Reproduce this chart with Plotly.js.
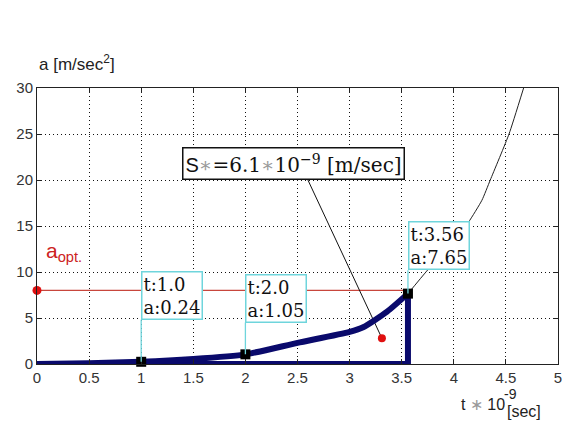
<!DOCTYPE html>
<html>
<head>
<meta charset="utf-8">
<script src="https://cdn.plot.ly/plotly-3.0.1.min.js"></script>
<style>
  html, body { margin: 0; padding: 0; background: #fff; }
  #chart { width: 567px; height: 428px; }
</style>
</head>
<body>
<div id="chart"></div>
<script>
// acceleration profile a(t), t in units of 1e-9 s
const tCurve = [0, 0.5, 1, 1.5, 2, 2.5, 3, 3.13, 3.36, 3.56];
const aCurve = [0, 0.08, 0.24, 0.55, 1.05, 2.3, 3.5, 4.0, 5.7, 7.65];

// continuation of the curve beyond the cut-off point
const tExt = [3.56, 3.74, 3.95, 4.14, 4.27, 4.35, 4.53, 4.67];
const aExt = [7.65, 10.1, 12.8, 15.4, 17.8, 20, 25, 30];

// data tips
const tipT = [1.0, 2.0, 3.56];
const tipA = [0.24, 1.05, 7.65];

// optimum acceleration level
const aOpt = 8;

// distance marker point
const sDotT = 3.31;
const sDotA = 2.8;
const sValue = 6.1;

// axis ticks
const xTicks = [0, 0.5, 1, 1.5, 2, 2.5, 3, 3.5, 4, 4.5, 5];
const xTickText = ['0', '0.5', '1', '1.5', '2', '2.5', '3', '3.5', '4', '4.5', '5'];
const yTicks = [0, 5, 10, 15, 20, 25, 30];
const yTickText = ['0', '5', '10', '15', '20', '25', '30'];

// styling
const NAVY = '#0a0a6c';
const CYAN = '#6fd5dc';
const RED = '#e01010';
const SANS = 'Liberation Sans, Arial, sans-serif';
const SERIF = 'DejaVu Serif, serif';
const STAR = '<span style="color:#9a9a9a">∗</span>';

const tLast = tipT[tipT.length - 1];
const aLast = tipA[tipA.length - 1];

const fmtT = t => Number.isInteger(t) ? t.toFixed(1) : String(t);
const fmtA = a => a.toFixed(2);

const traces = [
  // a_opt level
  { x: [0, tLast - 0.03], y: [aOpt, aOpt], mode: 'lines',
    line: { color: '#c8463c', width: 1.3 }, hoverinfo: 'skip' },
  { x: [0], y: [aOpt], mode: 'markers', cliponaxis: false,
    marker: { color: RED, size: 9 }, hoverinfo: 'skip' },
  // leader from the distance label to its point
  { x: [2.60, sDotT], y: [20.0, sDotA], mode: 'lines',
    line: { color: '#111', width: 1 }, hoverinfo: 'skip' },
  { x: [sDotT], y: [sDotA], mode: 'markers',
    marker: { color: RED, size: 8 }, hoverinfo: 'skip' },
  // closing edges of the region under the curve
  { x: [tCurve[0], tLast, tLast], y: [0, 0, aLast], mode: 'lines', cliponaxis: false,
    line: { color: NAVY, width: 6 }, hoverinfo: 'skip' },
  // acceleration curve
  { x: tCurve, y: aCurve, mode: 'lines', cliponaxis: false,
    line: { color: NAVY, width: 6, shape: 'spline', smoothing: 0.6 }, hoverinfo: 'skip' },
  // continuation
  { x: tExt, y: aExt, mode: 'lines',
    line: { color: '#222', width: 1, shape: 'spline', smoothing: 0.5 }, hoverinfo: 'skip' },
  // data tip points
  { x: tipT, y: tipA, mode: 'markers', cliponaxis: false,
    marker: { color: '#000', size: 10, symbol: 'square' }, hoverinfo: 'skip' }
];

// bottom edge (in a-units) of each data-tip box
const tipBoxBase = [4.8, 4.5, 10.2];

const annotations = tipT.map((t, i) => ({
  x: t, y: tipA[i], xref: 'x', yref: 'y',
  axref: 'x', ayref: 'y', ax: t, ay: tipBoxBase[i],
  xanchor: 'left', yanchor: 'bottom', align: 'left',
  text: 't:' + fmtT(t) + '<br>a:' + fmtA(tipA[i]),
  showarrow: true, arrowhead: 0, arrowwidth: 1.3, arrowcolor: CYAN, standoff: 0,
  bgcolor: '#fff', bordercolor: CYAN, borderwidth: 1.5, borderpad: 1,
  font: { family: SERIF, size: 18, color: '#111' }
}));

annotations.push(
  { // distance label
    x: 1.39, y: 23.6, xref: 'x', yref: 'y', xanchor: 'left', yanchor: 'top',
    showarrow: false, bgcolor: '#fff', bordercolor: '#111', borderwidth: 1.5, borderpad: 2,
    text: '<span style="font-family:Liberation Sans, Arial, sans-serif">S</span>' + STAR +
          '=' + sValue.toFixed(1) + STAR + '10<sup>−9</sup> [m/sec]',
    font: { family: SERIF, size: 20, color: '#111' }
  },
  { // a_opt label
    x: 0.07, y: 12.2, xref: 'x', yref: 'y', xanchor: 'left', yanchor: 'middle',
    showarrow: false, text: 'a<sub>opt.</sub>',
    font: { family: SANS, size: 21, color: '#cc2222' }
  },
  { // y axis title
    x: 0, y: 1.09, xref: 'paper', yref: 'paper', xanchor: 'left', yanchor: 'middle',
    showarrow: false, text: 'a [m/sec<sup>2</sup>]',
    font: { family: SANS, size: 17, color: '#222' }
  },
  { // x axis title
    x: (483 - 37) / 521, y: -0.145, xref: 'paper', yref: 'paper', xanchor: 'center', yanchor: 'middle',
    showarrow: false, text: 't ' + STAR + ' 10',
    font: { family: SANS, size: 16, color: '#222' }
  },
  {
    x: (510 - 37) / 521, y: -0.108, xref: 'paper', yref: 'paper', xanchor: 'center', yanchor: 'middle',
    showarrow: false, text: '-9',
    font: { family: SANS, size: 14, color: '#222' }
  },
  {
    x: (505 - 37) / 521, y: -0.172, xref: 'paper', yref: 'paper', xanchor: 'left', yanchor: 'middle',
    showarrow: false, text: '[sec]',
    font: { family: SANS, size: 16, color: '#222' }
  }
);

const axisCommon = {
  showline: true, linecolor: '#222', linewidth: 1, mirror: 'ticks',
  ticks: 'inside', ticklen: 5, tickcolor: '#222', tickwidth: 1,
  showgrid: true, gridcolor: '#111', gridwidth: 1, griddash: '1px,3px',
  zeroline: false, fixedrange: true,
  tickfont: { family: SANS, size: 15, color: '#333' }
};

const layout = {
  width: 567, height: 428,
  margin: { l: 37, r: 9, t: 88, b: 64 },
  paper_bgcolor: '#fff', plot_bgcolor: '#fff',
  showlegend: false,
  xaxis: Object.assign({}, axisCommon, {
    range: [0, 5], tickmode: 'array', tickvals: xTicks, ticktext: xTickText
  }),
  yaxis: Object.assign({}, axisCommon, {
    range: [0, 30], tickmode: 'array', tickvals: yTicks, ticktext: yTickText
  }),
  annotations: annotations
};

Plotly.newPlot('chart', traces, layout, { staticPlot: true, displayModeBar: false });
</script>
</body>
</html>
